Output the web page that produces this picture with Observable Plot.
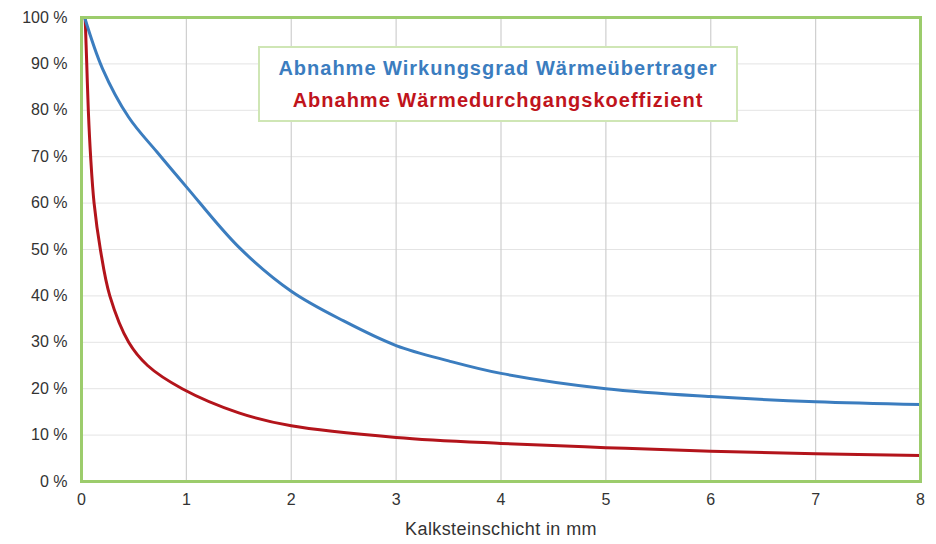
<!DOCTYPE html>
<html>
<head>
<meta charset="utf-8">
<script src="https://cdn.jsdelivr.net/npm/d3@7"></script>
<script src="https://cdn.jsdelivr.net/npm/@observablehq/plot@0.6"></script>
<style>
  html, body { margin: 0; padding: 0; background: #fff; }
  #wrap { position: relative; width: 936px; height: 544px; font-family: "Liberation Sans", Arial, sans-serif; }
  #legend { position: absolute; left: 258px; top: 46px; width: 480px; height: 76px; box-sizing: border-box;
    border: 2px solid #cfe6b5; background: #fff; text-align: center; font-weight: bold; font-size: 20px; letter-spacing: 1px; }
  #legend div { line-height: 32px; }
</style>
</head>
<body>
<div id="wrap"></div>
<script>
const blueName = "Abnahme Wirkungsgrad Wärmeübertrager";
const redName = "Abnahme Wärmedurchgangskoeffizient";
const blueX = [0.03, 0.2, 0.45, 0.72, 1.0, 1.5, 2, 2.5, 3, 3.5, 4, 5, 6, 7, 8];
const blueY = [100, 89, 78.5, 71, 63.5, 50.5, 41, 34.6, 29.3, 26, 23.3, 20, 18.3, 17.2, 16.6];
const redX = [0.035, 0.05, 0.065, 0.087, 0.12, 0.18, 0.27, 0.45, 0.63, 0.96, 1.5, 2, 3, 4, 5, 6, 7, 8];
const redY = [100, 90, 80, 70, 60, 50, 40, 30, 25, 20, 14.8, 12, 9.5, 8.2, 7.3, 6.5, 6, 5.6];
const xTicks = [0, 1, 2, 3, 4, 5, 6, 7, 8];
const yTicks = [0, 10, 20, 30, 40, 50, 60, 70, 80, 90, 100];
const xLabel = "Kalksteinschicht in mm";

const blue = blueX.map((x, i) => ({x, y: blueY[i]}));
const red = redX.map((x, i) => ({x, y: redY[i]}));

const chart = Plot.plot({
  width: 936, height: 544,
  marginLeft: 81, marginRight: 16, marginTop: 17, marginBottom: 63,
  style: {fontFamily: "'Liberation Sans', Arial, sans-serif", fontSize: "16px", color: "#333", background: "#fff"},
  x: {domain: [0, 8], label: null},
  y: {domain: [0, 100], label: null},
  marks: [
    Plot.gridY(yTicks, {stroke: "#e4e4e4", strokeOpacity: 1, strokeWidth: 1}),
    Plot.gridX(xTicks, {stroke: "#cfcfcf", strokeOpacity: 1, strokeWidth: 1.2}),
    Plot.line(red, {x: "x", y: "y", stroke: "#b3141b", strokeWidth: 3, curve: "catmull-rom"}),
    Plot.line(blue, {x: "x", y: "y", stroke: "#3b7dbf", strokeWidth: 3, curve: "catmull-rom"}),
    Plot.frame({stroke: "#9ccc6c", strokeWidth: 3}),
    Plot.axisX({ticks: xTicks, tickSize: 0, tickPadding: 12, fontSize: 16, label: null}),
    Plot.axisY({ticks: yTicks, tickSize: 0, tickPadding: 14, tickFormat: d => d + " %", fontSize: 16, label: null}),
    Plot.text([xLabel], {frameAnchor: "bottom", dy: 53, fontSize: 18, fill: "#333"})
  ]
});
d3.select(chart).selectAll("text").filter(function() { return this.textContent === xLabel; })
  .attr("letter-spacing", "0.4px");
const wrap = document.getElementById("wrap");
wrap.appendChild(chart);
const leg = document.createElement("div");
leg.id = "legend";
leg.innerHTML = `<div style="color:#3b7dbf;margin-top:4px">${blueName}</div><div style="color:#c0141c">${redName}</div>`;
wrap.appendChild(leg);
</script>
</body>
</html>
